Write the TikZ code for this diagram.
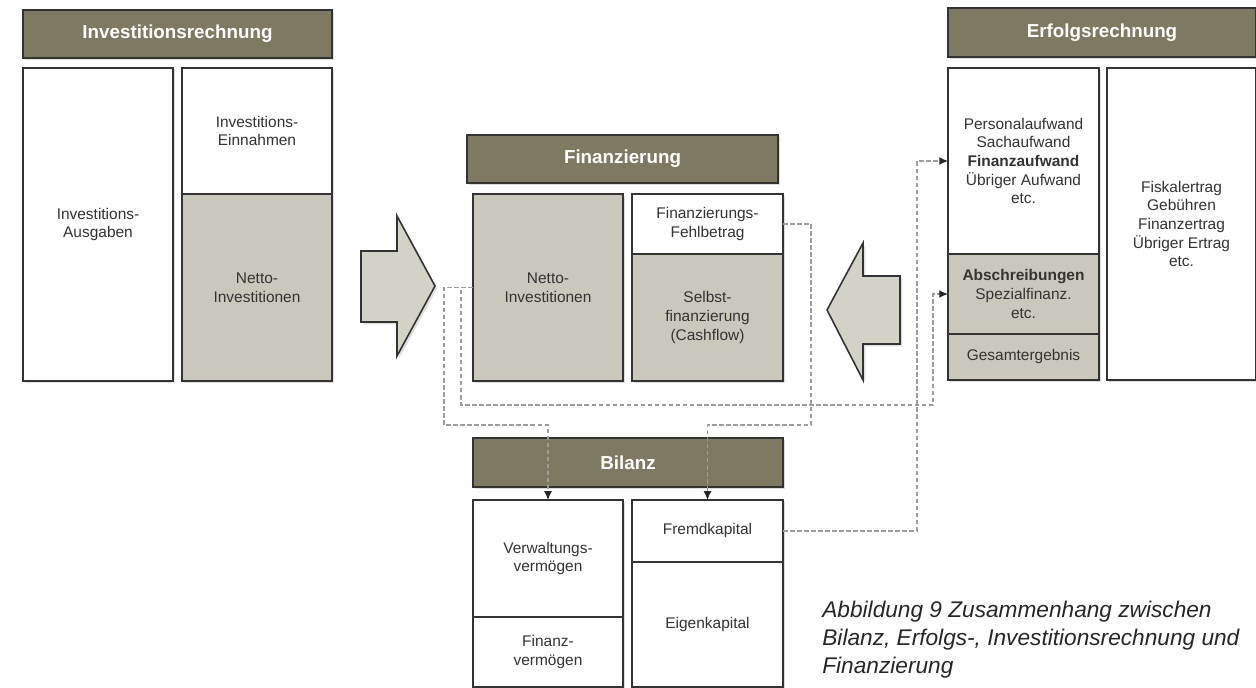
\documentclass[tikz,border=0pt]{standalone}
\usepackage{fontspec}
\setmainfont{Liberation Sans}
\usetikzlibrary{arrows.meta,shadows}
\definecolor{headOlive}{HTML}{7E7A62}
\definecolor{cellGray}{HTML}{CAC8BC}
\definecolor{arrowGray}{HTML}{D3D2C6}
\definecolor{lineDark}{HTML}{333333}
\definecolor{dashGray}{HTML}{9C9C9C}
% a box given by its pixel corners: name, x1, y1, x2, y2, style, text
\newcommand{\cellNode}[7]{%
  \node[#6,minimum width={(#4-#2)*0.569pt},minimum height={(#5-#3)*0.569pt}]
    (#1) at ({(#2+#4)/2},{(#3+#5)/2}) {#7};
}

\begin{document}
\begin{tikzpicture}[%
  x=0.02cm,y=-0.02cm,%
  cellStyle/.style={draw=lineDark,line width=0.9pt,inner sep=0pt,outer sep=0pt,align=center,%
    text=black!80,font=\fontsize{8.8}{10.6}\selectfont,%
    drop shadow={opacity=0.25,shadow xshift=1.3pt,shadow yshift=-1.3pt}},%
  whiteCell/.style={cellStyle,fill=white},%
  grayCell/.style={cellStyle,fill=cellGray},%
  headStyle/.style={cellStyle,fill=headOlive,text=white,font=\fontsize{10.7}{12}\selectfont\bfseries},%
  bigArrow/.style={draw=lineDark,line width=0.9pt,fill=arrowGray,line join=miter,%
    drop shadow={opacity=0.25,shadow xshift=1.3pt,shadow yshift=-1.3pt}},%
  linkStyle/.style={draw=dashGray,line width=0.7pt,dash pattern=on 2.6pt off 1.4pt,%
    -{Latex[length=5pt,width=4.5pt,color=black!85]}},%
  captionStyle/.style={align=left,inner sep=0pt,anchor=north west,text=black!85,%
    font=\fontsize{12.9}{15.8}\selectfont\itshape}%
]
%
\useasboundingbox (0,0) rectangle (1256,688);
%
% Investitionsrechnung
\cellNode{invHead}{23}{10}{332}{58}{headStyle}{Investitionsrechnung}
\cellNode{invAus}{23}{68}{173}{381}{whiteCell}{Investitions-\\Ausgaben}
\cellNode{invEin}{182}{68}{332}{194}{whiteCell}{Investitions-\\Einnahmen}
\cellNode{invNetto}{182}{194}{332}{381}{grayCell}{Netto-\\Investitionen}
%
% Finanzierung
\cellNode{finHead}{467}{135}{778}{183}{headStyle}{Finanzierung}
\cellNode{finNetto}{473}{194}{623}{381}{grayCell}{Netto-\\Investitionen}
\cellNode{finFehl}{632}{194}{783}{254}{whiteCell}{Finanzierungs-\\Fehlbetrag}
\cellNode{finSelbst}{632}{254}{783}{381}{grayCell}{Selbst-\\finanzierung\\(Cashflow)}
%
% Erfolgsrechnung
\cellNode{erfHead}{948}{8}{1256}{57}{headStyle}{Erfolgsrechnung}
\cellNode{erfAufw}{948}{68}{1099}{254}{whiteCell}{Personalaufwand\\Sachaufwand\\\textbf{Finanzaufwand}\\Übriger Aufwand\\etc.}
\cellNode{erfAbsch}{948}{254}{1099}{334}{grayCell}{\textbf{Abschreibungen}\\Spezialfinanz.\\etc.}
\cellNode{erfGesamt}{948}{334}{1099}{380}{grayCell}{Gesamtergebnis}
\cellNode{erfErtrag}{1107}{68}{1256}{380}{whiteCell}{Fiskalertrag\\Gebühren\\Finanzertrag\\Übriger Ertrag\\etc.}
%
% Bilanz
\cellNode{bilHead}{473}{438}{783}{487}{headStyle}{Bilanz}
\cellNode{bilVerw}{473}{500}{623}{617}{whiteCell}{Verwaltungs-\\vermögen}
\cellNode{bilFinanz}{473}{617}{623}{687}{whiteCell}{Finanz-\\vermögen}
\cellNode{bilFremd}{632}{500}{783}{562}{whiteCell}{Fremdkapital}
\cellNode{bilEigen}{632}{562}{783}{687}{whiteCell}{Eigenkapital}
%
% The two block arrows.
\draw[bigArrow] (361,251) -- (397,251) -- (397,216) -- (435,286) -- (397,356)
  -- (397,322) -- (361,322) -- cycle;
\draw[bigArrow] (900,276) -- (863,276) -- (863,243) -- (827,310) -- (863,380)
  -- (863,344) -- (900,344) -- cycle;
%
% Turning points of the links.
\coordinate (turnVerw) at (444,425);
\coordinate (turnAbsch) at (461,405);
\coordinate (turnFremd) at (811,425);
\coordinate (turnAufw) at (917,161);
%
% The links.
\draw[linkStyle] (finNetto.west) -| (turnVerw) -| (bilVerw.north);
\draw[linkStyle] (finNetto.west) -| (turnAbsch) -| (933,300) |- (erfAbsch.west);
\draw[linkStyle] (finFehl.east) -| (turnFremd) -| (bilFremd.north);
\draw[linkStyle] (bilFremd.east) -| (turnAufw) -- (erfAufw.west);
%
% Caption.
\node[captionStyle] (caption) at (822,601) {Abbildung 9 Zusammenhang zwischen\\Bilanz, Erfolgs-, Investitionsrechnung und\\Finanzierung};
\end{tikzpicture}
\end{document}
